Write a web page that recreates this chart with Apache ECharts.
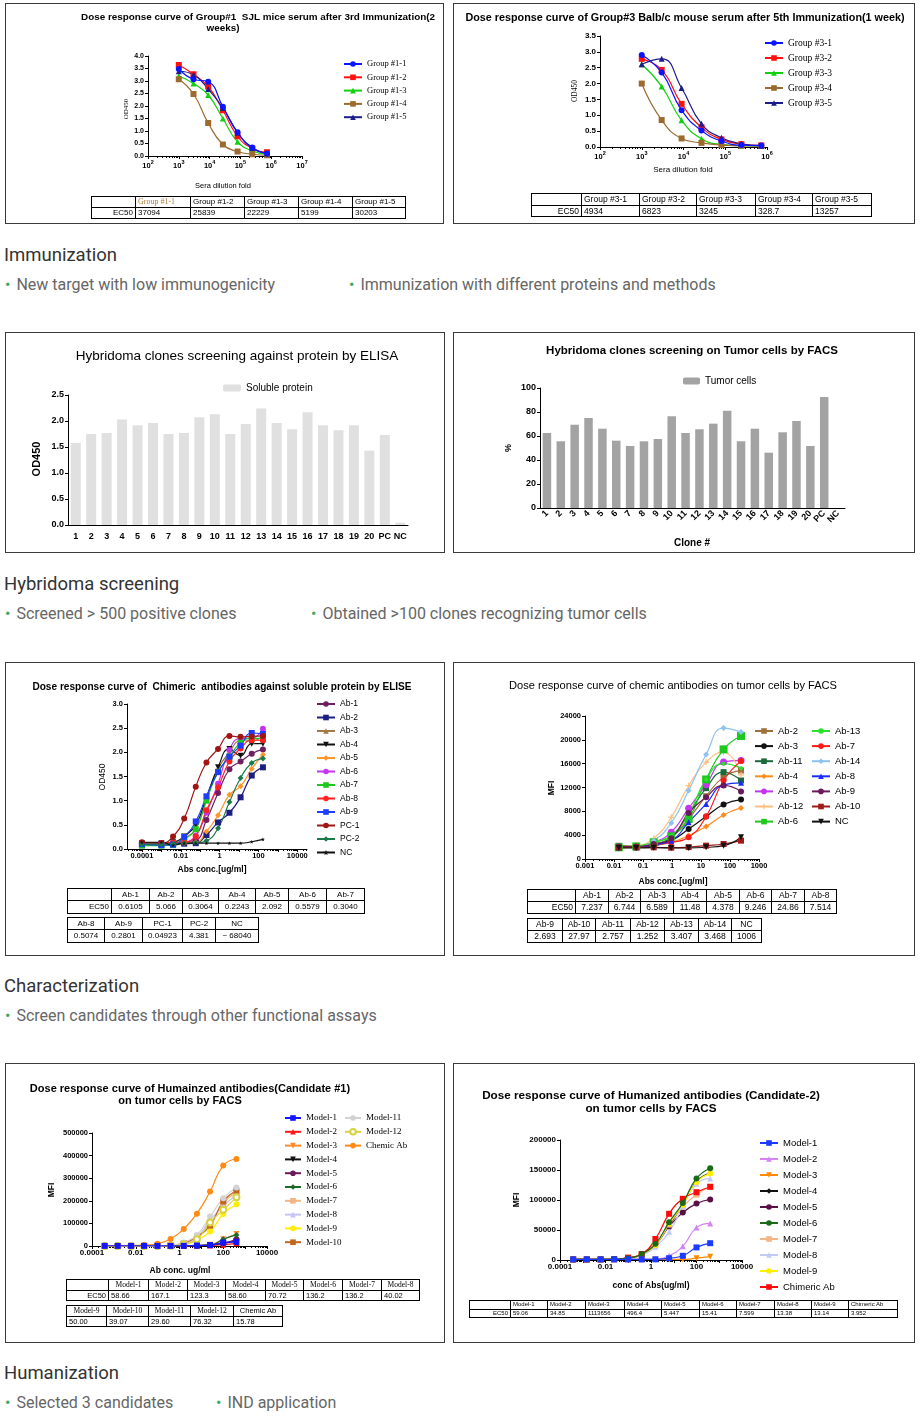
<!DOCTYPE html>
<html><head><meta charset="utf-8">
<script src="https://cdn.jsdelivr.net/npm/echarts@6/dist/echarts.min.js"></script>
<style>
html,body{margin:0;padding:0;background:#fff;}
body{width:922px;height:1418px;position:relative;overflow:hidden;font-family:Roboto,"Liberation Sans",sans-serif;}
.panel{position:absolute;border:1px solid #3a3a3a;box-sizing:border-box;}
.chart{position:absolute;}
.h{position:absolute;left:4px;font-size:18.5px;line-height:22px;color:#333;white-space:nowrap;}
.b{position:absolute;font-size:16px;line-height:20px;color:#666;white-space:nowrap;}
.b i{font-style:normal;color:#3aa85e;margin-right:6px;}
table.t{position:absolute;border-collapse:collapse;table-layout:fixed;font-family:"Liberation Sans",Arial,sans-serif;color:#000;border:1.5px solid #000;}
table.t td{border:1px solid #000;padding:0 2px;white-space:nowrap;overflow:hidden;}
</style>
</head><body>
<div id="root"></div>
<script>
// ---------------- DATA ----------------
// Panel 1: Group #1 SJL mice serum
const g1Dilution = [1000, 3000, 9000, 27000, 81000, 243000, 729000];
const g1Names = ['Group #1-1', 'Group #1-2', 'Group #1-3', 'Group #1-4', 'Group #1-5'];
const g1_1 = [3.48, 3.07, 2.97, 1.97, 0.95, 0.34, 0.10];
const g1_2 = [3.64, 3.27, 2.78, 1.83, 0.79, 0.30, 0.15];
const g1_3 = [3.20, 2.90, 2.44, 1.50, 0.57, 0.20, 0.07];
const g1_4 = [3.07, 2.48, 1.32, 0.46, 0.18, 0.07, 0.03];
const g1_5 = [3.39, 3.25, 2.68, 1.92, 0.93, 0.32, 0.10];
const g1EC50 = ['37094', '25839', '22229', '5199', '30203'];

// Panel 2: Group #3 Balb/c mouse serum
const g3Dilution = [1000, 3000, 9000, 27000, 81000, 243000, 729000];
const g3Names = ['Group #3-1', 'Group #3-2', 'Group #3-3', 'Group #3-4', 'Group #3-5'];
const g3_1 = [2.90, 2.35, 1.16, 0.52, 0.19, 0.06, 0.05];
const g3_2 = [2.78, 2.43, 1.36, 0.62, 0.24, 0.09, 0.05];
const g3_3 = [2.61, 1.91, 0.84, 0.26, 0.08, 0.04, 0.03];
const g3_4 = [2.00, 0.85, 0.27, 0.13, 0.06, 0.04, 0.03];
const g3_5 = [2.61, 2.78, 1.86, 0.73, 0.29, 0.10, 0.04];
const g3EC50 = ['4934', '6823', '3245', '328.7', '13257'];

// Panel 3 / 4: hybridoma screening
const cloneLabels = ['1','2','3','4','5','6','7','8','9','10','11','12','13','14','15','16','17','18','19','20','PC','NC'];
const elisaOD = [1.58, 1.75, 1.77, 2.03, 1.92, 1.96, 1.75, 1.77, 2.07, 2.13, 1.75, 1.94, 2.24, 1.96, 1.84, 2.17, 1.92, 1.82, 1.92, 1.43, 1.73, 0.045];
const facsPct = [62.5, 55.6, 69.4, 75.0, 66.1, 56.1, 51.7, 55.6, 57.5, 76.4, 62.5, 65.6, 70.3, 81.1, 55.6, 66.1, 46.1, 63.1, 72.5, 51.7, 92.5, 0];

// Panel 5: chimeric antibodies ELISA
const chimConc = [0.0001, 0.001, 0.004, 0.015, 0.059, 0.21, 0.83, 3.2, 12, 45, 170];
const chimNames = ['Ab-1','Ab-2','Ab-3','Ab-4','Ab-5','Ab-6','Ab-7','Ab-8','Ab-9','PC-1','PC-2','NC'];
const chAb1 = [0.10, 0.12, 0.12, 0.13, 0.17, 0.60, 1.16, 1.65, 1.81, 1.97, 2.06];
const chAb2 = [0.08, 0.10, 0.10, 0.11, 0.12, 0.29, 0.55, 0.75, 1.07, 1.52, 1.69];
const chAb3 = [0.12, 0.13, 0.14, 0.22, 0.42, 1.03, 1.66, 2.00, 2.24, 2.24, 2.34];
const chAb4 = [0.12, 0.12, 0.14, 0.26, 0.50, 1.07, 1.69, 2.07, 1.93, 2.18, 2.18];
const chAb5 = [0.12, 0.12, 0.12, 0.13, 0.14, 0.36, 0.70, 1.12, 1.30, 1.66, 1.95];
const chAb6 = [0.10, 0.11, 0.12, 0.14, 0.28, 0.75, 1.35, 2.05, 2.29, 2.29, 2.49];
const chAb7 = [0.07, 0.07, 0.08, 0.20, 0.41, 1.00, 1.60, 1.91, 2.20, 2.29, 2.29];
const chAb8 = [0.12, 0.12, 0.13, 0.14, 0.26, 0.80, 1.28, 1.81, 2.08, 2.25, 2.25];
const chAb9 = [0.10, 0.08, 0.09, 0.25, 0.57, 1.09, 1.59, 1.91, 2.14, 2.40, 2.38];
const chPC1 = [0.14, 0.12, 0.26, 0.63, 1.29, 1.79, 2.07, 2.34, 2.32, 2.33, 2.34];
const chPC2 = [0.10, 0.10, 0.11, 0.12, 0.13, 0.17, 0.43, 0.97, 1.47, 1.78, 1.87];
const chNC  = [0.14, 0.14, 0.08, 0.12, 0.12, 0.12, 0.12, 0.12, 0.12, 0.15, 0.20];
const chimHead1 = ['Ab-1','Ab-2','Ab-3','Ab-4','Ab-5','Ab-6','Ab-7'];
const chimEC1 = ['0.6105','5.066','0.3064','0.2243','2.092','0.5579','0.3040'];
const chimHead2 = ['Ab-8','Ab-9','PC-1','PC-2','NC'];
const chimEC2 = ['0.5074','0.2801','0.04923','4.381','~ 68040'];

// Panel 6: chimeric antibodies FACS
const facsConc = [0.0146, 0.0586, 0.234, 0.94, 3.75, 15, 60, 240];
const fAb2  = [2200, 2200, 2500, 3650, 6730, 10540, 13740, 14860];
const fAb3  = [1960, 1960, 2240, 3080, 5050, 7120, 9140, 9980];
const fAb11 = [2200, 2200, 2500, 3650, 7570, 11890, 14580, 13180];
const fAb4  = [1960, 2100, 2400, 2800, 3930, 5440, 7400, 8580];
const fAb5  = [2100, 2100, 2800, 4490, 8520, 12450, 16260, 16540];
const fAb12 = [2100, 2240, 3480, 7000, 12300, 16260, 17940, 14130];
const fAb6  = [1960, 2100, 2800, 3800, 6700, 13350, 18400, 20640];
const fAb13 = [1960, 2100, 2800, 3930, 7570, 13350, 16000, 15250];
const fAb7  = [1960, 1960, 2400, 2800, 3650, 7120, 13180, 16430];
const fAb14 = [1960, 1960, 3080, 6050, 11500, 17550, 21980, 21300];
const fAb8  = [1960, 1960, 2400, 3080, 6170, 9250, 12450, 12790];
const fAb9  = [2100, 2100, 2500, 3480, 7740, 10370, 12340, 11330];
const fAb10 = [1900, 1960, 1960, 1900, 2000, 2240, 2520, 3080];
const fNC   = [1850, 1850, 1900, 1850, 1850, 1960, 2240, 3650];
const facsHead1 = ['Ab-1','Ab-2','Ab-3','Ab-4','Ab-5','Ab-6','Ab-7','Ab-8'];
const facsEC1 = ['7.237','6.744','6.589','11.48','4.378','9.246','24.86','7.514'];
const facsHead2 = ['Ab-9','Ab-10','Ab-11','Ab-12','Ab-13','Ab-14','NC'];
const facsEC2 = ['2.693','27.97','2.757','1.252','3.407','3.468','1006'];

// Panel 7: humanized candidate #1
const hu1Conc = [0.00038, 0.0015, 0.0061, 0.024, 0.098, 0.39, 1.56, 6.25, 25, 100, 400];
const h1M1  = [500, 500, 500, 500, 500, 500, 1000, 2000, 4000, 15000, 18000];
const h1M2  = [0, 0, 0, 0, 0, 0, 500, 1000, 2000, 6000, 12000];
const h1M3  = [0, 0, 0, 0, 0, 500, 1000, 2000, 6000, 30000, 53000];
const h1M4  = [0, 0, 0, 0, 0, 0, 500, 1500, 4000, 12000, 22000];
const h1M5  = [0, 0, 0, 0, 0, 0, 500, 1500, 4000, 12000, 30000];
const h1M6  = [0, 0, 0, 0, 0, 500, 1000, 3000, 4000, 30000, 49000];
const h1M7  = [0, 0, 0, 0, 1000, 2000, 10000, 35000, 95000, 189000, 237000];
const h1M8  = [0, 0, 0, 0, 1000, 2000, 12000, 38000, 115000, 177000, 226000];
const h1M9  = [0, 0, 0, 0, 500, 1000, 5000, 27000, 64000, 142000, 185000];
const h1M10 = [0, 0, 0, 0, 1000, 3000, 12000, 41000, 90000, 197000, 244000];
const h1M11 = [0, 0, 0, 0, 1000, 3000, 16000, 49000, 130000, 211000, 259000];
const h1M12 = [0, 0, 0, 0, 500, 1500, 8000, 30000, 104000, 160000, 216000];
const h1Chem = [1000, 1000, 1500, 4000, 10000, 31000, 75000, 143000, 241000, 356000, 385000];
const hu1Head1 = ['Model-1','Model-2','Model-3','Model-4','Model-5','Model-6','Model-7','Model-8'];
const hu1EC1 = ['58.66','167.1','123.3','58.60','70.72','136.2','136.2','40.02'];
const hu1Head2 = ['Model-9','Model-10','Model-11','Model-12','Chemic Ab'];
const hu1EC2 = ['50.00','39.07','29.60','76.32','15.78'];

// Panel 8: humanized candidate 2
const hu2Conc = [0.00038, 0.0015, 0.0061, 0.024, 0.098, 0.39, 1.56, 6.25, 25, 100, 400];
const h2M1 = [1100, 1100, 1100, 1100, 1100, 1100, 1100, 3000, 7000, 21000, 28000];
const h2M2 = [1000, 1000, 1000, 1000, 1000, 1000, 1500, 7000, 23000, 54000, 61000];
const h2M3 = [1000, 1000, 1000, 1000, 1000, 1000, 1000, 1000, 1000, 3000, 5500];
const h2M4 = [1000, 1000, 1000, 1500, 3000, 10000, 25000, 58000, 92000, 131000, 145000];
const h2M5 = [1000, 1000, 1000, 1500, 3000, 9000, 27000, 56000, 79000, 94000, 101000];
const h2M6 = [1000, 1000, 1000, 1500, 3000, 10000, 27000, 63000, 95000, 136000, 153000];
const h2M7 = [1000, 1000, 1000, 1500, 3000, 9000, 25000, 59000, 89000, 109000, 122000];
const h2M8 = [1000, 1000, 1000, 1500, 2500, 8000, 22000, 47000, 89000, 127000, 136000];
const h2M9 = [1000, 1000, 1000, 1500, 3000, 10000, 25000, 61000, 92000, 130000, 144000];
const h2Chim = [1000, 1000, 1000, 1500, 4000, 10000, 35000, 77000, 102000, 113000, 122000];
const hu2Head = ['Model-1','Model-2','Model-3','Model-4','Model-5','Model-6','Model-7','Model-8','Model-9','Chimeric Ab'];
const hu2EC = ['59.06','34.85','1113656','496.4','5.447','15.41','7.599','13.38','13.14','3.952'];

// ---------------- HELPERS ----------------
const SANS = 'Liberation Sans';
const SERIF = 'Liberation Serif';
const DOWN = 'path://M0,0L100,0L50,90Z';
const STAR = 'path://M50,0L61,35L98,35L68,57L79,91L50,70L21,91L32,57L2,35L39,35Z';
const PLUS = 'path://M40,0H60V40H100V60H60V100H40V60H0V40H40Z';

function box(cls, l, t, w, h) {
  const d = document.createElement('div');
  d.className = cls;
  Object.assign(d.style, {left: l + 'px', top: t + 'px', width: w + 'px', height: h + 'px'});
  document.body.appendChild(d);
  return d;
}
function text(cls, l, t, html) {
  const d = document.createElement('div');
  d.className = cls; d.style.left = l + 'px'; d.style.top = t + 'px'; d.innerHTML = html;
  document.body.appendChild(d);
}
function logTicks(mn, mx) {
  const maj = [], mnr = [];
  for (let d = Math.floor(mn); d <= Math.ceil(mx); d++) {
    if (d >= mn - 1e-9 && d <= mx + 1e-9) maj.push(d);
    for (let k = 2; k < 10; k++) { const v = d + Math.log10(k); if (v > mn && v < mx) mnr.push(v); }
  }
  return {maj, mnr};
}
function gtext(x, y, str, font, opt) {
  opt = opt || {};
  return Object.assign({type: 'text', x: x, y: y, silent: true,
    style: {text: str, font: font, fill: opt.fill || '#000', align: opt.align || 'center', verticalAlign: 'middle'}},
    opt.rot ? {rotation: opt.rot} : {});
}
function mkLegend(l, t, names, o) {
  return {orient: 'vertical', left: l, top: t, data: names, itemWidth: o.iw || 18, itemHeight: o.ih || 7,
    itemGap: o.gap, padding: 0, selectedMode: false,
    textStyle: {fontFamily: o.ff || SANS, fontSize: o.fs, lineHeight: o.lh, color: '#000', padding: [0, 0, 0, 0]}};
}
// dose-response chart on a log10 x axis
function doseChart(el, c) {
  const ch = echarts.init(el);
  const tk = logTicks(c.xmin, c.xmax);
  const series = c.series.map(s => ({
    name: s.name, type: 'line', xAxisIndex: 0, yAxisIndex: 0,
    data: c.x.map((xv, i) => [Math.log10(xv), s.data[i]]),
    smooth: 0.5, symbol: s.symbol, symbolSize: s.size || 6,
    itemStyle: {color: s.color}, lineStyle: {color: s.color, width: s.lw || 1.2}, z: s.z || 2
  }));
  const opt = {
    animation: false,
    grid: [Object.assign({containLabel: false}, c.grid), Object.assign({containLabel: false}, c.grid)],
    xAxis: [
      {type: 'value', gridIndex: 0, min: c.xmin, max: c.xmax, splitLine: {show: false},
        axisLine: {show: true, onZero: false, lineStyle: {color: '#000', width: 1}},
        axisTick: {show: true, customValues: tk.maj, length: 3, lineStyle: {color: '#000'}},
        axisLabel: {show: true, customValues: c.labelVals || tk.maj, formatter: c.xfmt, color: '#000',
          fontFamily: SANS, fontWeight: 'bold', fontSize: c.xfs || 7, margin: c.xmargin || 3, rich: c.xrich}},
      {type: 'value', gridIndex: 1, min: c.xmin, max: c.xmax, axisLine: {show: false}, splitLine: {show: false},
        axisTick: {show: true, customValues: tk.mnr, length: 2, lineStyle: {color: '#000'}}, axisLabel: {show: false}}
    ],
    yAxis: [
      {type: 'value', gridIndex: 0, min: c.ymin, max: c.ymax, interval: c.yint, splitLine: {show: false},
        axisLine: {show: true, onZero: false, lineStyle: {color: '#000', width: 1}},
        axisTick: {show: true, length: 3, lineStyle: {color: '#000'}},
        axisLabel: {color: '#000', fontFamily: SANS, fontWeight: 'bold', fontSize: c.yfs || 7, margin: 4, formatter: c.yfmt}},
      {type: 'value', gridIndex: 1, show: false, min: c.ymin, max: c.ymax}
    ],
    legend: c.legends,
    graphic: c.graphic,
    series: series
  };
  ch.setOption(opt);
  return ch;
}
function barChart(el, c) {
  const ch = echarts.init(el);
  ch.setOption({
    animation: false,
    grid: c.grid,
    legend: c.legend,
    graphic: c.graphic,
    xAxis: {type: 'category', data: c.cats, axisLine: {lineStyle: {color: '#000', width: 1}},
      axisTick: {alignWithLabel: true, length: 3, lineStyle: {color: '#000'}},
      axisLabel: Object.assign({interval: 0, color: '#000', fontFamily: SANS, fontWeight: 'bold', fontSize: 9, margin: 4}, c.xl || {})},
    yAxis: {type: 'value', min: c.ymin, max: c.ymax, interval: c.yint, splitLine: {show: false},
      axisLine: {show: true, lineStyle: {color: '#000', width: 1}}, axisTick: {show: true, length: 3, lineStyle: {color: '#000'}},
      axisLabel: {color: '#000', fontFamily: SANS, fontWeight: 'bold', fontSize: 9, margin: 4, formatter: c.yfmt}},
    series: [{name: c.name, type: 'bar', data: c.data, barWidth: c.bw, itemStyle: {color: c.color}}]
  });
  return ch;
}
function mkTable(l, t, widths, rowH, rows, o) {
  o = o || {};
  const tb = document.createElement('table');
  tb.className = 't';
  tb.style.left = l + 'px'; tb.style.top = t + 'px';
  tb.style.width = widths.reduce((a, b) => a + b, 0) + 'px';
  tb.style.fontSize = (o.fs || 8) + 'px';
  const cg = document.createElement('colgroup');
  widths.forEach(w => { const c = document.createElement('col'); c.style.width = w + 'px'; cg.appendChild(c); });
  tb.appendChild(cg);
  rows.forEach((r, ri) => {
    const tr = document.createElement('tr');
    r.forEach((cell, ci) => {
      const td = document.createElement('td');
      td.textContent = cell;
      td.style.height = (rowH - 1) + 'px';
      td.style.lineHeight = (rowH - 1) + 'px';
      td.style.textAlign = (o.align && o.align(ri, ci)) || 'left';
      if (o.cell) o.cell(td, ri, ci);
      tr.appendChild(td);
    });
    tb.appendChild(tr);
  });
  document.body.appendChild(tb);
}
const sup10 = v => '{b|10}{s|' + Math.round(v) + '}';
const supRich = {
  b: {fontSize: 7.5, fontWeight: 'bold', fontFamily: SANS, color: '#000', lineHeight: 11, verticalAlign: 'bottom'},
  s: {fontSize: 5.5, fontWeight: 'bold', fontFamily: SANS, color: '#000', lineHeight: 11, verticalAlign: 'top'}
};
const decLabel = v => {
  const m = {'-4': '0.0001', '-3': '0.001', '-2': '0.01', '-1': '0.1', '0': '1', '1': '10', '2': '100', '3': '1000', '4': '10000'};
  return m[String(Math.round(v))];
};

// ---------------- PANELS ----------------
const P = [
  [5, 3, 439, 221], [453, 3, 462, 221],
  [5, 332, 440, 221], [453, 332, 462, 221],
  [5, 662, 440, 294], [453, 662, 462, 294],
  [5, 1063, 440, 280], [453, 1063, 462, 280]
];
const els = P.map(p => { box('panel', p[0], p[1], p[2], p[3]); return box('chart', p[0], p[1], p[2], p[3]); });

// Headings and bullets
text('h', 4, 244, 'Immunization');
text('b', 5, 275, '<i>•</i>New target with low immunogenicity');
text('b', 349, 275, '<i>•</i>Immunization with different proteins and methods');
text('h', 4, 573, 'Hybridoma screening');
text('b', 5, 604, '<i>•</i>Screened &gt; 500 positive clones');
text('b', 311, 604, '<i>•</i>Obtained &gt;100 clones recognizing tumor cells');
text('h', 4, 975, 'Characterization');
text('b', 5, 1006, '<i>•</i>Screen candidates through other functional assays');
text('h', 4, 1362, 'Humanization');
text('b', 5, 1393, '<i>•</i>Selected 3 candidates');
text('b', 216, 1393, '<i>•</i>IND application');

// Panel 1
doseChart(els[0], {
  grid: {left: 143, top: 53, width: 154, height: 100},
  xmin: 2, xmax: 7, xfmt: sup10, xrich: supRich, xfs: 7,
  ymin: 0, ymax: 4, yint: 0.5, yfmt: v => v.toFixed(1), yfs: 7,
  x: g1Dilution,
  series: [
    {name: g1Names[0], data: g1_1, color: '#0a14ff', symbol: 'circle', z: 5},
    {name: g1Names[1], data: g1_2, color: '#ff1010', symbol: 'rect'},
    {name: g1Names[2], data: g1_3, color: '#10d010', symbol: 'triangle'},
    {name: g1Names[3], data: g1_4, color: '#9c6a2e', symbol: 'rect'},
    {name: g1Names[4], data: g1_5, color: '#1c1c8c', symbol: 'triangle'}
  ],
  legends: [mkLegend(338, 56, g1Names, {ff: SERIF, fs: 8.5, lh: 10, gap: 3.3, iw: 18, ih: 7})],
  graphic: [
    gtext(253, 14, 'Dose response curve of Group#1  SJL mice serum after 3rd Immunization(2', 'bold 9.9px "Liberation Sans"'),
    gtext(218, 25, 'weeks)', 'bold 9.9px "Liberation Sans"'),
    gtext(121, 106, 'OD450', '7px "Liberation Serif"', {rot: Math.PI / 2}),
    gtext(218, 183, 'Sera dilution fold', '7.5px "Liberation Sans"')
  ]
});
mkTable(91, 196, [44, 55, 54, 54, 54, 53], 11, [[''].concat(g1Names), ['EC50'].concat(g1EC50)], {
  fs: 8, align: (r, c) => (r === 1 && c === 0) ? 'right' : 'left',
  cell: (td, r, c) => { if (r === 0 && c === 1) { td.style.fontFamily = SERIF; td.style.color = '#b07a3a'; } }
});

// Panel 2
doseChart(els[1], {
  grid: {left: 147, top: 33, width: 167, height: 111},
  xmin: 2, xmax: 6, xfmt: sup10, xrich: supRich, xfs: 7.5,
  ymin: 0, ymax: 3.5, yint: 0.5, yfmt: v => v.toFixed(1), yfs: 8,
  x: g3Dilution,
  series: [
    {name: g3Names[0], data: g3_1, color: '#0a14ff', symbol: 'circle', z: 5},
    {name: g3Names[1], data: g3_2, color: '#ff1010', symbol: 'rect'},
    {name: g3Names[2], data: g3_3, color: '#10d010', symbol: 'triangle'},
    {name: g3Names[3], data: g3_4, color: '#9c6a2e', symbol: 'rect'},
    {name: g3Names[4], data: g3_5, color: '#1c1c8c', symbol: 'triangle'}
  ],
  legends: [mkLegend(311, 34.5, g3Names, {ff: SERIF, fs: 9.5, lh: 11, gap: 4, iw: 18, ih: 7})],
  graphic: [
    gtext(232, 15, 'Dose response curve of Group#3 Balb/c mouse serum after 5th Immunization(1 week)', 'bold 10.8px "Liberation Sans"'),
    gtext(122, 88, 'OD450', '7.5px "Liberation Serif"', {rot: Math.PI / 2}),
    gtext(230, 167, 'Sera dilution fold', '8px "Liberation Sans"')
  ]
});
mkTable(531, 193, [50, 58, 57, 59, 57, 59], 11.5, [[''].concat(g3Names), ['EC50'].concat(g3EC50)], {
  fs: 8.5, align: (r, c) => (r === 1 && c === 0) ? 'right' : 'left'
});

// Panel 3
barChart(els[2], {
  grid: {left: 63, top: 63, width: 340, height: 130},
  cats: cloneLabels, data: elisaOD, name: 'Soluble protein', color: '#e0e0e0', bw: 10,
  ymin: 0, ymax: 2.5, yint: 0.5, yfmt: v => v.toFixed(1),
  xl: {margin: 7},
  legend: {left: 218, top: 50, itemWidth: 18, itemHeight: 7, padding: 0, selectedMode: false, data: ['Soluble protein'],
    textStyle: {fontFamily: SANS, fontSize: 10, color: '#000', lineHeight: 12}},
  graphic: [
    gtext(232, 24, 'Hybridoma clones screening against protein by ELISA', '13.5px "Liberation Sans"'),
    gtext(32, 127, 'OD450', 'bold 11px "Liberation Sans"', {rot: Math.PI / 2})
  ]
});

// Panel 4
barChart(els[3], {
  grid: {left: 87, top: 56, width: 305, height: 120},
  cats: cloneLabels, data: facsPct, name: 'Tumor cells', color: '#a3a3a3', bw: 8.5,
  ymin: 0, ymax: 100, yint: 20, yfmt: v => String(v),
  xl: {rotate: 45, margin: 4, fontSize: 9},
  legend: {left: 230, top: 43, itemWidth: 17, itemHeight: 7, padding: 0, selectedMode: false, data: ['Tumor cells'],
    textStyle: {fontFamily: SANS, fontSize: 10, color: '#000', lineHeight: 12}},
  graphic: [
    gtext(239, 19, 'Hybridoma clones screening on Tumor cells by FACS', 'bold 11.5px "Liberation Sans"'),
    gtext(56, 116, '%', 'bold 9px "Liberation Sans"', {rot: Math.PI / 2}),
    gtext(239, 211, 'Clone #', 'bold 10px "Liberation Sans"')
  ]
});

// Panel 5
doseChart(els[4], {
  grid: {left: 122, top: 42, width: 180, height: 145},
  xmin: -4.77, xmax: 4.5, labelVals: [-4, -2, 0, 2, 4], xfmt: decLabel, xfs: 7.5,
  ymin: 0, ymax: 3, yint: 0.5, yfmt: v => v.toFixed(1), yfs: 7.5,
  x: chimConc,
  series: [
    {name: 'Ab-1', data: chAb1, color: '#6e1f5f', symbol: 'circle'},
    {name: 'Ab-2', data: chAb2, color: '#1c1f80', symbol: 'rect'},
    {name: 'Ab-3', data: chAb3, color: '#a07a48', symbol: 'triangle'},
    {name: 'Ab-4', data: chAb4, color: '#111111', symbol: DOWN},
    {name: 'Ab-5', data: chAb5, color: '#ff9428', symbol: 'diamond'},
    {name: 'Ab-6', data: chAb6, color: '#c435f0', symbol: 'circle'},
    {name: 'Ab-7', data: chAb7, color: '#1ec81e', symbol: 'rect'},
    {name: 'Ab-8', data: chAb8, color: '#ff2020', symbol: 'circle'},
    {name: 'Ab-9', data: chAb9, color: '#1e3cff', symbol: 'rect'},
    {name: 'PC-1', data: chPC1, color: '#a01414', symbol: 'circle'},
    {name: 'PC-2', data: chPC2, color: '#1a7a4a', symbol: 'diamond'},
    {name: 'NC', data: chNC, color: '#111111', symbol: STAR, size: 4}
  ],
  legends: [mkLegend(311, 37, chimNames, {fs: 8.5, lh: 10, gap: 3.5, iw: 18, ih: 7})],
  graphic: [
    gtext(217, 25, 'Dose response curve of  Chimeric  antibodies against soluble protein by ELISE', 'bold 10.1px "Liberation Sans"'),
    gtext(98, 115, 'OD450', '8.5px "Liberation Sans"', {rot: Math.PI / 2}),
    gtext(207, 208, 'Abs conc.[ug/ml]', 'bold 8.5px "Liberation Sans"')
  ]
});
mkTable(67, 888, [44, 38, 33, 36, 37, 33, 38, 38], 12.3, [[''].concat(chimHead1), ['EC50'].concat(chimEC1)], {
  fs: 8, align: (r, c) => (c === 0) ? 'right' : 'center'
});
mkTable(67, 917, [37, 38, 40, 33, 43], 12.3, [chimHead2, chimEC2], {fs: 8, align: () => 'center'});

// Panel 6
const facsNames1 = ['Ab-2', 'Ab-3', 'Ab-11', 'Ab-4', 'Ab-5', 'Ab-12', 'Ab-6'];
const facsNames2 = ['Ab-13', 'Ab-7', 'Ab-14', 'Ab-8', 'Ab-9', 'Ab-10', 'NC'];
doseChart(els[5], {
  grid: {left: 132, top: 54, width: 174, height: 143},
  xmin: -3, xmax: 3, xfmt: decLabel, xfs: 7.5,
  ymin: 0, ymax: 24000, yint: 4000, yfmt: v => String(v), yfs: 7.5,
  x: facsConc,
  series: [
    {name: 'Ab-2', data: fAb2, color: '#a0703a', symbol: 'rect'},
    {name: 'Ab-3', data: fAb3, color: '#111111', symbol: 'circle'},
    {name: 'Ab-11', data: fAb11, color: '#1a6a3a', symbol: 'rect'},
    {name: 'Ab-4', data: fAb4, color: '#ff8a1e', symbol: 'diamond'},
    {name: 'Ab-5', data: fAb5, color: '#c435f0', symbol: 'circle', size: 7},
    {name: 'Ab-12', data: fAb12, color: '#ffbe7a', symbol: PLUS},
    {name: 'Ab-6', data: fAb6, color: '#1ec81e', symbol: 'rect', size: 8},
    {name: 'Ab-13', data: fAb13, color: '#2ee02e', symbol: 'circle', size: 4},
    {name: 'Ab-7', data: fAb7, color: '#ff1a1a', symbol: 'circle'},
    {name: 'Ab-14', data: fAb14, color: '#8ec2f2', symbol: 'diamond'},
    {name: 'Ab-8', data: fAb8, color: '#1a2aff', symbol: 'triangle'},
    {name: 'Ab-9', data: fAb9, color: '#6a1a5a', symbol: 'circle'},
    {name: 'Ab-10', data: fAb10, color: '#a01a1a', symbol: 'rect'},
    {name: 'NC', data: fNC, color: '#111111', symbol: DOWN}
  ],
  legends: [
    mkLegend(301, 63.5, facsNames1, {fs: 9.5, lh: 11, gap: 4.1, iw: 18, ih: 7}),
    mkLegend(358, 63.5, facsNames2, {fs: 9.5, lh: 11, gap: 4.1, iw: 18, ih: 7})
  ],
  graphic: [
    gtext(220, 24, 'Dose response curve of chemic antibodies on tumor cells by FACS', '11.1px "Liberation Sans"'),
    gtext(99, 126, 'MFI', 'bold 8.5px "Liberation Sans"', {rot: Math.PI / 2}),
    gtext(220, 220, 'Abs conc.[ug/ml]', 'bold 8.5px "Liberation Sans"')
  ]
});
mkTable(527, 889, [48, 33, 32, 33, 33, 33, 32, 33, 32], 12, [[''].concat(facsHead1), ['EC50'].concat(facsEC1)], {
  fs: 8.5, align: (r, c) => (c === 0) ? 'right' : 'center'
});
mkTable(527, 918, [35, 33, 35, 34, 34, 33, 30], 12, [facsHead2, facsEC2], {fs: 8.5, align: () => 'center'});

// Panel 7
const hu1Names1 = ['Model-1','Model-2','Model-3','Model-4','Model-5','Model-6','Model-7','Model-8','Model-9','Model-10'];
const hu1Names2 = ['Model-11','Model-12','Chemic Ab'];
doseChart(els[6], {
  grid: {left: 87, top: 70, width: 175, height: 113},
  xmin: -4, xmax: 4, labelVals: [-4, -2, 0, 2, 4], xfmt: decLabel, xfs: 8,
  ymin: 0, ymax: 500000, yint: 100000, yfmt: v => String(v), yfs: 7.5,
  x: hu1Conc,
  series: [
    {name: 'Model-1', data: h1M1, color: '#1414ff', symbol: 'rect', z: 6},
    {name: 'Model-2', data: h1M2, color: '#ff1414', symbol: 'triangle'},
    {name: 'Model-3', data: h1M3, color: '#ff8a28', symbol: DOWN},
    {name: 'Model-4', data: h1M4, color: '#111111', symbol: DOWN},
    {name: 'Model-5', data: h1M5, color: '#6a1a5a', symbol: 'circle'},
    {name: 'Model-6', data: h1M6, color: '#1a6a2a', symbol: 'diamond'},
    {name: 'Model-7', data: h1M7, color: '#f4b484', symbol: 'rect'},
    {name: 'Model-8', data: h1M8, color: '#c4c4f4', symbol: 'triangle'},
    {name: 'Model-9', data: h1M9, color: '#ffee00', symbol: 'circle'},
    {name: 'Model-10', data: h1M10, color: '#c0661e', symbol: 'rect'},
    {name: 'Model-11', data: h1M11, color: '#d2d2d2', symbol: 'circle'},
    {name: 'Model-12', data: h1M12, color: '#d8d040', symbol: 'emptyCircle'},
    {name: 'Chemic Ab', data: h1Chem, color: '#ff8a14', symbol: 'circle', z: 5}
  ],
  legends: [
    mkLegend(279, 50, hu1Names1, {ff: SERIF, fs: 9, lh: 10, gap: 3.8, iw: 16, ih: 7}),
    mkLegend(339, 50, hu1Names2, {ff: SERIF, fs: 9, lh: 10, gap: 3.8, iw: 16, ih: 7})
  ],
  graphic: [
    gtext(185, 26, 'Dose response curve of Humainzed antibodies(Candidate #1)', 'bold 11px "Liberation Sans"'),
    gtext(175, 38, 'on tumor cells by FACS', 'bold 11px "Liberation Sans"'),
    gtext(47, 127, 'MFI', 'bold 8.5px "Liberation Sans"', {rot: Math.PI / 2}),
    gtext(175, 208, 'Ab conc. ug/ml', 'bold 8.5px "Liberation Sans"')
  ]
});
mkTable(66, 1279, [42, 40, 39, 38, 40, 38, 39, 39, 38], 10.5, [[''].concat(hu1Head1), ['EC50'].concat(hu1EC1)], {
  fs: 7.5, align: (r, c) => (r === 1 && c === 0) ? 'right' : (r === 0 ? 'center' : 'left'),
  cell: (td, r, c) => { if (r === 0) td.style.fontFamily = SERIF; }
});
mkTable(66, 1305, [40, 42, 42, 43, 49], 10.5, [hu1Head2, hu1EC2], {
  fs: 7.5, align: (r, c) => (r === 0 ? 'center' : 'left'),
  cell: (td, r, c) => { if (r === 0 && c < 4) td.style.fontFamily = SERIF; }
});

// Panel 8
const hu2Names = ['Model-1','Model-2','Model-3','Model-4','Model-5','Model-6','Model-7','Model-8','Model-9','Chimeric Ab'];
doseChart(els[7], {
  grid: {left: 107, top: 77, width: 182, height: 120},
  xmin: -4, xmax: 4, labelVals: [-4, -2, 0, 2, 4], xfmt: decLabel, xfs: 8,
  ymin: 0, ymax: 200000, yint: 50000, yfmt: v => String(v), yfs: 8,
  x: hu2Conc,
  series: [
    {name: 'Model-1', data: h2M1, color: '#1a3aff', symbol: 'rect', z: 6},
    {name: 'Model-2', data: h2M2, color: '#d484f4', symbol: 'triangle'},
    {name: 'Model-3', data: h2M3, color: '#ff8a00', symbol: DOWN},
    {name: 'Model-4', data: h2M4, color: '#111111', symbol: 'diamond', size: 5},
    {name: 'Model-5', data: h2M5, color: '#5a1044', symbol: 'circle'},
    {name: 'Model-6', data: h2M6, color: '#1a6a1a', symbol: 'circle', z: 4},
    {name: 'Model-7', data: h2M7, color: '#f4b484', symbol: 'rect'},
    {name: 'Model-8', data: h2M8, color: '#c4caf8', symbol: 'triangle'},
    {name: 'Model-9', data: h2M9, color: '#ffee00', symbol: 'circle'},
    {name: 'Chimeric Ab', data: h2Chim, color: '#ff0a0a', symbol: 'rect'}
  ],
  legends: [mkLegend(306, 74.5, hu2Names, {fs: 9.5, lh: 11, gap: 5, iw: 18, ih: 7})],
  graphic: [
    gtext(198, 33, 'Dose response curve of Humanized antibodies (Candidate-2)', 'bold 11.7px "Liberation Sans"'),
    gtext(198, 46, 'on tumor cells by FACS', 'bold 11.7px "Liberation Sans"'),
    gtext(64, 137, 'MFI', 'bold 8.5px "Liberation Sans"', {rot: Math.PI / 2}),
    gtext(198, 223, 'conc of Abs(ug/ml)', 'bold 8.5px "Liberation Sans"')
  ]
});
mkTable(469, 1300, [41, 37, 38, 39, 37, 38, 37, 38, 37, 37, 49], 8.5, [[''].concat(hu2Head), ['EC50'].concat(hu2EC)], {
  fs: 6, align: (r, c) => (r === 1 && c === 0) ? 'right' : 'left'
});
</script>
</body></html>
